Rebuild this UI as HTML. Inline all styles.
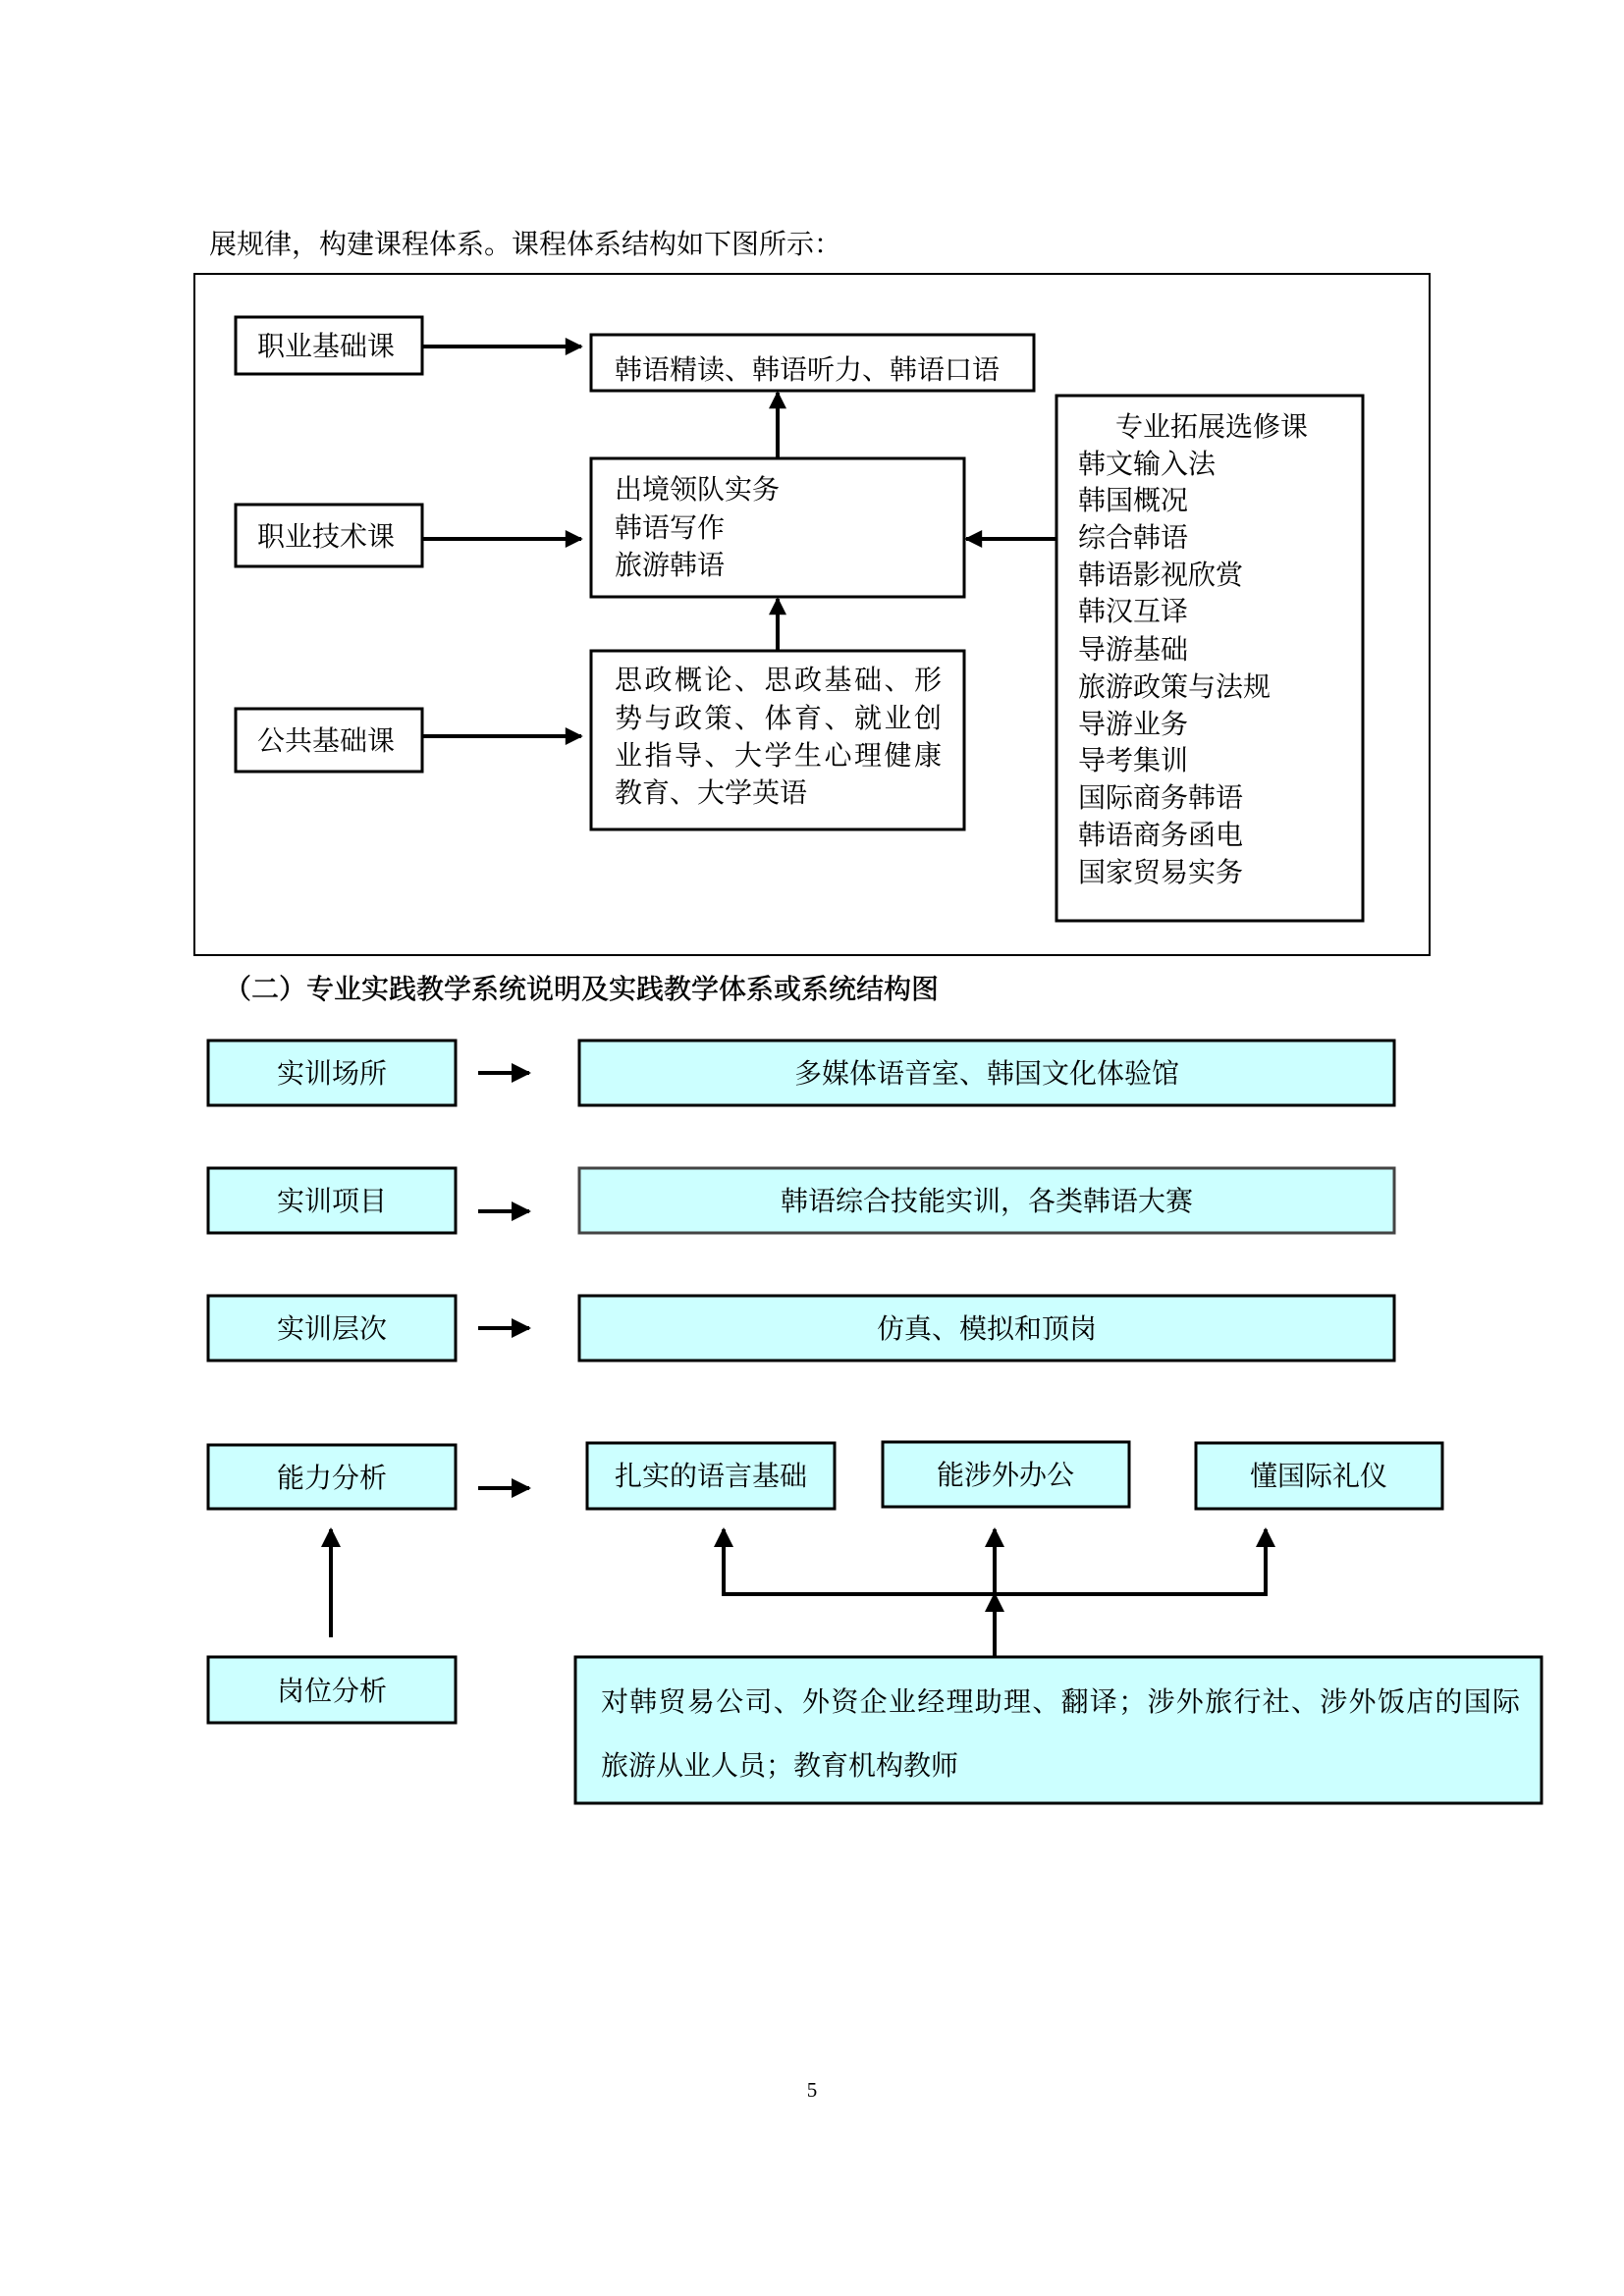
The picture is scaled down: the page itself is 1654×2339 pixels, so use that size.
<!DOCTYPE html>
<html><head><meta charset="utf-8"><style>
html,body{margin:0;padding:0;background:#fff}
svg{display:block}
text{font-family:"Liberation Serif","Noto Serif CJK SC",serif;font-size:28px;fill:#000}
</style></head><body>
<svg width="1654" height="2339" viewBox="0 0 1654 2339" xmlns="http://www.w3.org/2000/svg">
<defs>
<marker id="a" viewBox="0 0 10 10" refX="9" refY="5" markerWidth="5" markerHeight="5" markerUnits="strokeWidth" orient="auto"><path d="M0,0 L10,5 L0,10 z" fill="#000"/></marker>
<marker id="b" viewBox="0 0 10 10" refX="9" refY="5" markerWidth="5" markerHeight="4.5" markerUnits="strokeWidth" orient="auto"><path d="M0,0 L10,5 L0,10 z" fill="#000"/></marker>
</defs>
<text x="213" y="258">展规律，构建课程体系。课程体系结构如下图所示：</text>
<rect x="198" y="279" width="1258" height="694" fill="none" stroke="#000" stroke-width="2"/>
<g fill="#fff" stroke="#000" stroke-width="3">
<rect x="240" y="323" width="190" height="58"/>
<rect x="240" y="514" width="190" height="63"/>
<rect x="240" y="722" width="190" height="64"/>
<rect x="602" y="341" width="451" height="57"/>
<rect x="602" y="467" width="380" height="141"/>
<rect x="602" y="663" width="380" height="182"/>
<rect x="1076" y="403" width="312" height="535"/>
</g>
<g stroke="#000" stroke-width="4" marker-end="url(#b)">
<line x1="430" y1="353" x2="592" y2="353"/>
<line x1="430" y1="549" x2="592" y2="549"/>
<line x1="430" y1="750" x2="592" y2="750"/>
<line x1="792" y1="467" x2="792" y2="400"/>
<line x1="792" y1="663" x2="792" y2="610"/>
<line x1="1076" y1="549" x2="984" y2="549"/>
</g>
<text x="262" y="362">职业基础课</text>
<text x="262" y="556">职业技术课</text>
<text x="262" y="764">公共基础课</text>
<text x="626" y="386">韩语精读、韩语听力、韩语口语</text>
<text x="626" y="508">出境领队实务</text>
<text x="626" y="547">韩语写作</text>
<text x="626" y="585">旅游韩语</text>
<text x="626" y="702" textLength="333" lengthAdjust="spacing">思政概论、思政基础、形</text>
<text x="626" y="741" textLength="333" lengthAdjust="spacing">势与政策、体育、就业创</text>
<text x="626" y="779" textLength="333" lengthAdjust="spacing">业指导、大学生心理健康</text>
<text x="626" y="817">教育、大学英语</text>
<text x="1234" y="444" text-anchor="middle">专业拓展选修课</text>
<g>
<text x="1098" y="482">韩文输入法</text>
<text x="1098" y="519">韩国概况</text>
<text x="1098" y="557">综合韩语</text>
<text x="1098" y="595">韩语影视欣赏</text>
<text x="1098" y="632">韩汉互译</text>
<text x="1098" y="671">导游基础</text>
<text x="1098" y="709">旅游政策与法规</text>
<text x="1098" y="747">导游业务</text>
<text x="1098" y="784">导考集训</text>
<text x="1098" y="822">国际商务韩语</text>
<text x="1098" y="860">韩语商务函电</text>
<text x="1098" y="898">国家贸易实务</text>
</g>
<text x="228" y="1017" style="stroke:#000;stroke-width:0.6">（二）专业实践教学系统说明及实践教学体系或系统结构图</text>
<g fill="#ccffff" stroke="#000" stroke-width="3">
<rect x="212" y="1060" width="252" height="66"/>
<rect x="590" y="1060" width="830" height="66"/>
<rect x="212" y="1190" width="252" height="66"/>
<rect x="590" y="1190" width="830" height="66" stroke="#444"/>
<rect x="212" y="1320" width="252" height="66"/>
<rect x="590" y="1320" width="830" height="66"/>
<rect x="212" y="1472" width="252" height="65"/>
<rect x="598" y="1470" width="252" height="67"/>
<rect x="899" y="1469" width="251" height="66"/>
<rect x="1218" y="1470" width="251" height="67"/>
<rect x="212" y="1688" width="252" height="67"/>
<rect x="586" y="1688" width="984" height="149"/>
</g>
<g stroke="#000" stroke-width="4" marker-end="url(#a)">
<line x1="487" y1="1093" x2="539" y2="1093"/>
<line x1="487" y1="1234" x2="539" y2="1234"/>
<line x1="487" y1="1353" x2="539" y2="1353"/>
<line x1="487" y1="1516" x2="539" y2="1516"/>
<line x1="337" y1="1668" x2="337" y2="1558"/>
<line x1="737" y1="1624" x2="737" y2="1558"/>
<line x1="1013" y1="1624" x2="1013" y2="1558"/>
<line x1="1013" y1="1688" x2="1013" y2="1624"/>
<line x1="1289" y1="1624" x2="1289" y2="1558"/>
</g>
<line x1="735" y1="1624" x2="1291" y2="1624" stroke="#000" stroke-width="4"/>
<g text-anchor="middle">
<text x="338" y="1103">实训场所</text>
<text x="1005" y="1103">多媒体语音室、韩国文化体验馆</text>
<text x="338" y="1233">实训项目</text>
<text x="1005" y="1233">韩语综合技能实训，各类韩语大赛</text>
<text x="338" y="1363">实训层次</text>
<text x="1005" y="1363">仿真、模拟和顶岗</text>
<text x="338" y="1515">能力分析</text>
<text x="724" y="1513">扎实的语言基础</text>
<text x="1024" y="1512">能涉外办公</text>
<text x="1343" y="1513">懂国际礼仪</text>
<text x="338" y="1732">岗位分析</text>
</g>
<text x="612" y="1743" textLength="936" lengthAdjust="spacing">对韩贸易公司、外资企业经理助理、翻译；涉外旅行社、涉外饭店的国际</text>
<text x="612" y="1808">旅游从业人员；教育机构教师</text>
<text x="827" y="2136" text-anchor="middle" style="font-size:21px">5</text>
</svg>
</body></html>
